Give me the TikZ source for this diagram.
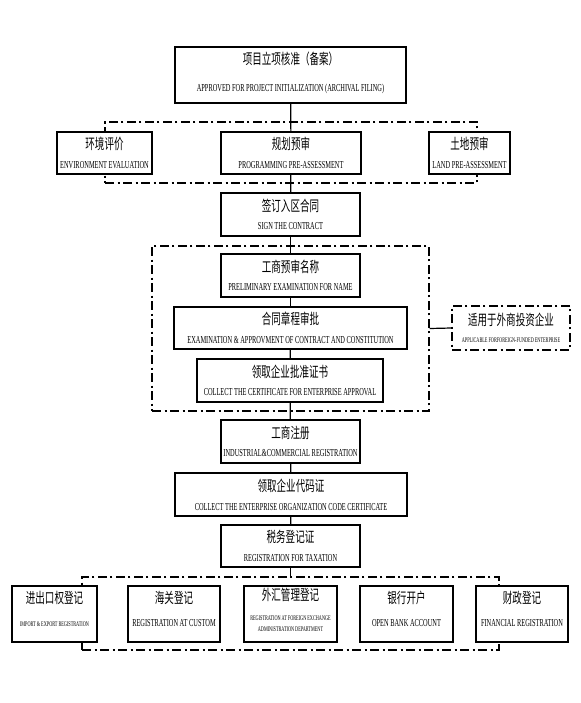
\documentclass[tikz,border=0pt]{standalone}
\usepackage{fontspec}
\newfontfamily\cnfont[FakeStretch=0.65]{Noto Sans CJK SC}
\newfontfamily\enfont[FakeStretch=0.6]{Liberation Serif}
\newcommand{\zh}{\cnfont\fontsize{11}{13}\selectfont}
\newcommand{\eng}{\enfont\fontsize{8}{13}\selectfont}
\newcommand{\engsmall}{\enfont\fontsize{5.3}{9}\selectfont}

\begin{document}
\begin{tikzpicture}[x=0.75pt, y=-0.75pt,
    stage/.style={draw, line width=0.9pt, fill=white, inner sep=0pt, align=center, font=\zh},
    group/.style={draw, line width=1pt, dash pattern=on 7pt off 2.5pt on 1.5pt off 2.5pt, inner sep=0pt},
    link/.style={line width=0.9pt}]
    \fill[white] (0,0) rectangle (581,703);
    \useasboundingbox (0,0) rectangle (581,703);

    % dash-dot frames
    \node[group, minimum width=279pt, minimum height=45.75pt] (pre) at (291,152.5) {};
    \node[group, minimum width=207.75pt, minimum height=123.75pt] (foreign) at (290.5,328.5) {};
    \node[group, minimum width=312.75pt, minimum height=54.75pt] (regs) at (290.5,613.5) {};

    % main column
    \node[stage, minimum width=173.25pt, minimum height=42pt] (approve) at (290.5,75)
        {项目立项核准（备案）\\[7pt]{\eng APPROVED FOR PROJECT INITIALIZATION (ARCHIVAL FILING)}\\[-8pt]\mbox{}};
    \node[stage, minimum width=71.25pt, minimum height=31.5pt] (env) at (104.5,153)
        {环境评价\\[1pt]{\eng ENVIRONMENT EVALUATION}};
    \node[stage, minimum width=105pt, minimum height=31.5pt] (plan) at (291,153)
        {规划预审\\[1pt]{\eng PROGRAMMING PRE-ASSESSMENT}};
    \node[stage, minimum width=60.75pt, minimum height=31.5pt] (land) at (469.5,153)
        {土地预审\\[1pt]{\eng LAND PRE-ASSESSMENT}};
    \node[stage, minimum width=104.25pt, minimum height=32.25pt] (sign) at (290.5,214.5)
        {签订入区合同\\[1pt]{\eng SIGN THE CONTRACT}};
    \node[stage, minimum width=104.25pt, minimum height=32.25pt] (name) at (290.5,275.5)
        {工商预审名称\\[1pt]{\eng PRELIMINARY EXAMINATION FOR NAME}};
    \node[stage, minimum width=174.75pt, minimum height=31.5pt] (charter) at (290.5,328)
        {合同章程审批\\[1pt]{\eng EXAMINATION \& APPROVMENT OF CONTRACT AND CONSTITUTION}};
    \node[stage, minimum width=139.5pt, minimum height=32.25pt] (cert) at (290,380.5)
        {领取企业批准证书\\[1pt]{\eng COLLECT THE CERTIFICATE FOR ENTERPRISE APPROVAL}};
    \node[stage, minimum width=104.25pt, minimum height=32.25pt] (icreg) at (290.5,441.5)
        {工商注册\\[1pt]{\eng INDUSTRIAL\&COMMERCIAL REGISTRATION}};
    \node[stage, minimum width=174pt, minimum height=32.25pt] (orgcode) at (291,494.5)
        {领取企业代码证\\[1pt]{\eng COLLECT THE ENTERPRISE ORGANIZATION CODE CERTIFICATE}};
    \node[stage, minimum width=104.25pt, minimum height=31.5pt] (tax) at (290.5,546)
        {税务登记证\\[1pt]{\eng REGISTRATION FOR TAXATION}};

    % side note
    \node[stage, group, fill=white, minimum width=88.5pt, minimum height=33pt] (applies) at (511,328)
        {适用于外商投资企业\\[0pt]{\engsmall APPLICABLE FORFOREIGN-FUNDED ENTERPRISE}};

    % bottom row
    \node[stage, minimum width=63.75pt, minimum height=42pt] (impexp) at (54.5,614)
        {进出口权登记\\[4pt]{\engsmall IMPORT \& EXPORT REGISTRATION}\\[-5.5pt]\mbox{}};
    \node[stage, minimum width=69pt, minimum height=42pt] (custom) at (174,614)
        {海关登记\\[4pt]{\eng REGISTRATION AT CUSTOM}\\[-5.5pt]\mbox{}};
    \node[stage, minimum width=69.75pt, minimum height=42pt] (forex) at (290.5,614)
        {外汇管理登记\\[2pt]{\engsmall REGISTRATION AT FOREIGN EXCHANGE}\\[-4.5pt]{\engsmall ADMINISTRATION DEPARTMENT}\\[-7pt]\mbox{}};
    \node[stage, minimum width=69.75pt, minimum height=42pt] (bank) at (406.5,614)
        {银行开户\\[4pt]{\eng OPEN BANK ACCOUNT}\\[-5.5pt]\mbox{}};
    \node[stage, minimum width=69pt, minimum height=42pt] (finance) at (522,614)
        {财政登记\\[4pt]{\eng FINANCIAL REGISTRATION}\\[-5.5pt]\mbox{}};

    % connectors
    \draw[link] (approve) -- (plan);
    \draw[link] (plan) -- (sign);
    \draw[link] (sign) -- (name);
    \draw[link] (name) -- (charter);
    \draw[link] (charter) -- (cert);
    \draw[link] (cert) -- (icreg);
    \draw[link] (icreg) -- (orgcode);
    \draw[link] (orgcode) -- (tax);
    \draw[link] (tax) -- (regs.north);
    \draw[link] (foreign.east) -- (applies.west);
\end{tikzpicture}
\end{document}
